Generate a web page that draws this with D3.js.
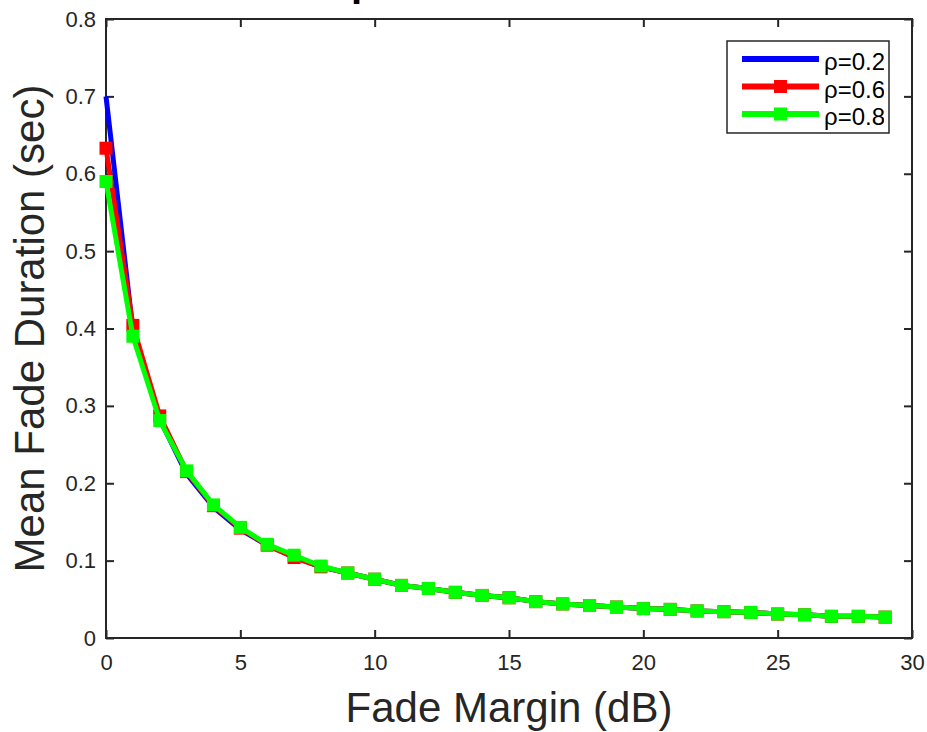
<!DOCTYPE html>
<html>
<head>
<meta charset="utf-8">
<script src="https://cdn.jsdelivr.net/npm/d3@7"></script>
<style>
  body { margin: 0; background: #fff; }
  text { font-family: "Liberation Sans", Arial, sans-serif; fill: #262626; }
</style>
</head>
<body>
<div id="chart"></div>
<script>
// DATA ////////////////////////////////////////////////////////////
var fadeMargin = d3.range(0, 30); // 0..29 dB
var rho02 = [0.700, 0.398, 0.283, 0.212, 0.169, 0.140, 0.120, 0.105, 0.092, 0.084,
             0.076, 0.068, 0.064, 0.059, 0.055, 0.052, 0.047, 0.044, 0.042, 0.040,
             0.038, 0.037, 0.035, 0.034, 0.033, 0.031, 0.030, 0.028, 0.028, 0.027];
var rho06 = [0.633, 0.404, 0.287, 0.215, 0.171, 0.142, 0.120, 0.104, 0.092, 0.084,
             0.076, 0.068, 0.064, 0.059, 0.055, 0.052, 0.047, 0.044, 0.042, 0.040,
             0.038, 0.037, 0.035, 0.034, 0.033, 0.031, 0.030, 0.028, 0.028, 0.027];
var rho08 = [0.590, 0.390, 0.281, 0.216, 0.172, 0.143, 0.121, 0.107, 0.093, 0.084,
             0.076, 0.068, 0.064, 0.059, 0.055, 0.052, 0.047, 0.044, 0.042, 0.040,
             0.038, 0.037, 0.035, 0.034, 0.033, 0.031, 0.030, 0.028, 0.028, 0.027];
var seriesNames = ["\u03c1=0.2", "\u03c1=0.6", "\u03c1=0.8"];
var seriesColors = ["#0000ff", "#ff0000", "#00ff00"];
var seriesMarkers = [false, true, true];
var xTicks = [0, 5, 10, 15, 20, 25, 30];
var yTicks = [0, 0.1, 0.2, 0.3, 0.4, 0.5, 0.6, 0.7, 0.8];

// SETUP ///////////////////////////////////////////////////////////
var width = 927, height = 732;
var padLeft = 106, padRight = 912, padTop = 19, padBottom = 638;
var axisColor = "#262626";

var svg = d3.select("#chart").append("svg")
  .attr("width", width).attr("height", height);

var x = d3.scaleLinear().domain([0, 30]).range([padLeft, padRight]);
var y = d3.scaleLinear().domain([0, 0.8]).range([padBottom, padTop]);

// clipped title (only the descender peeks in at the top)
svg.append("text").attr("x", 351).attr("y", -4)
  .style("font-size", "40px").style("font-weight", "bold").style("fill", "#000")
  .text("p");

// AXES ////////////////////////////////////////////////////////////
function styleAxis(g){
  g.attr("font-size", 22);
  g.select(".domain").remove();
  g.selectAll(".tick line").attr("stroke", axisColor).attr("stroke-width", 2);
  g.selectAll(".tick text").attr("font-size", 22).style("fill", axisColor);
}

svg.append("g").attr("transform", "translate(0," + padBottom + ")")
  .call(d3.axisBottom(x).tickValues(xTicks).tickSizeInner(-8).tickSizeOuter(0).tickPadding(16))
  .call(styleAxis);
svg.append("g").attr("transform", "translate(0," + padTop + ")")
  .call(d3.axisTop(x).tickValues(xTicks).tickSizeInner(-8).tickSizeOuter(0).tickFormat(""))
  .call(styleAxis);
svg.append("g").attr("transform", "translate(" + padLeft + ",0)")
  .call(d3.axisLeft(y).tickValues(yTicks).tickSizeInner(-8).tickSizeOuter(0).tickPadding(10)
    .tickFormat(function(d){ return d === 0 ? "0" : d3.format(".1f")(d); }))
  .call(styleAxis);
svg.append("g").attr("transform", "translate(" + padRight + ",0)")
  .call(d3.axisRight(y).tickValues(yTicks).tickSizeInner(-8).tickSizeOuter(0).tickFormat(""))
  .call(styleAxis);

svg.append("rect")
  .attr("x", padLeft).attr("y", padTop)
  .attr("width", padRight - padLeft).attr("height", padBottom - padTop)
  .attr("fill", "none").attr("stroke", axisColor).attr("stroke-width", 2);

// LABELS //////////////////////////////////////////////////////////
svg.append("text")
  .attr("x", (padLeft + padRight) / 2).attr("y", 722)
  .attr("text-anchor", "middle").style("font-size", "42px")
  .text("Fade Margin (dB)");

svg.append("text")
  .attr("transform", "translate(44," + (padTop + padBottom) / 2 + ") rotate(-90)")
  .attr("text-anchor", "middle").style("font-size", "42px")
  .text("Mean Fade Duration (sec)");

// SERIES //////////////////////////////////////////////////////////
var allSeries = [rho02, rho06, rho08];
var line = d3.line()
  .x(function(d, i){ return x(fadeMargin[i]); })
  .y(function(d){ return y(d); });

allSeries.forEach(function(values, s){
  svg.append("path").datum(values)
    .attr("fill", "none").attr("stroke", seriesColors[s])
    .attr("stroke-width", 5).attr("stroke-linejoin", "round")
    .attr("d", line);
  if (seriesMarkers[s]){
    svg.append("g").selectAll("rect").data(values)
      .enter().append("rect")
      .attr("x", function(d, i){ return x(fadeMargin[i]) - 6.5; })
      .attr("y", function(d){ return y(d) - 6.5; })
      .attr("width", 13).attr("height", 13)
      .attr("fill", seriesColors[s]);
  }
});

// LEGEND //////////////////////////////////////////////////////////
var legX = 727, legY = 41, legW = 162, legH = 92;
svg.append("clipPath").attr("id", "legclip")
  .append("rect").attr("x", legX).attr("y", legY).attr("width", 157).attr("height", legH);

svg.append("rect")
  .attr("x", legX).attr("y", legY).attr("width", legW).attr("height", legH)
  .attr("fill", "#fff").attr("stroke", axisColor).attr("stroke-width", 1.5);

var leg = svg.append("g").attr("clip-path", "url(#legclip)");
seriesNames.forEach(function(name, s){
  var ly = 59 + s * 27.5;
  leg.append("line")
    .attr("x1", 742).attr("x2", 819).attr("y1", ly).attr("y2", ly)
    .attr("stroke", seriesColors[s]).attr("stroke-width", 6);
  if (seriesMarkers[s]){
    leg.append("rect").attr("x", 774).attr("y", ly - 6.5)
      .attr("width", 13).attr("height", 13).attr("fill", seriesColors[s]);
  }
  leg.append("text").attr("x", 824).attr("y", ly + 11)
    .style("font-size", "24px").style("fill", "#000").text(name);
});
</script>
</body>
</html>
